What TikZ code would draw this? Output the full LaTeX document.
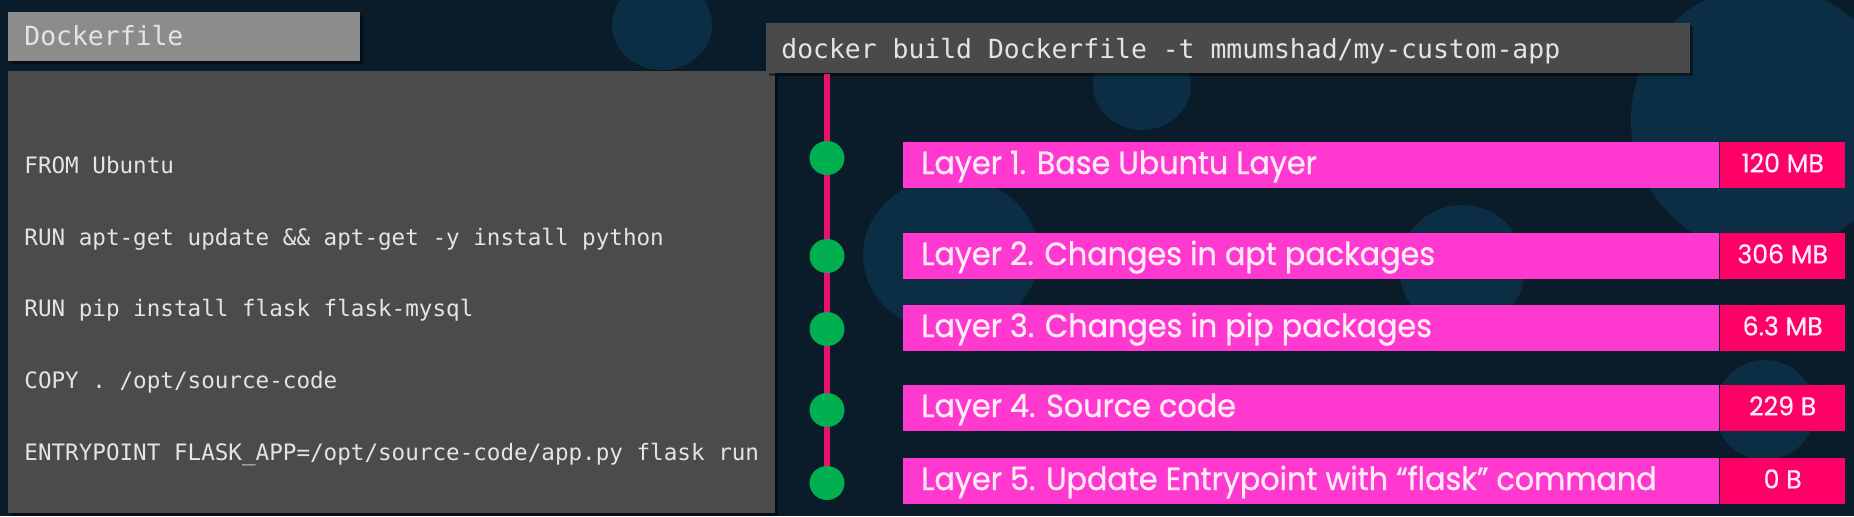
\documentclass[tikz,border=0pt]{standalone}
\usepackage{fontspec}
\usetikzlibrary{shapes.geometric,shadows}
\newfontfamily\codefont{DejaVu Sans Mono}
\newfontfamily\layerfont{Poppins}[FakeStretch=0.945,FakeBold=0.8]
\newfontfamily\sizefont{Poppins}[FakeStretch=0.97,FakeBold=0.5]
\definecolor{bgnavy}{HTML}{0A1B29}
\definecolor{bubble}{HTML}{0B2E45}
\definecolor{titlegray}{HTML}{8C8C8C}
\definecolor{panelgray}{HTML}{4B4B4B}
\definecolor{cmdgray}{HTML}{4A4A4A}
\definecolor{codetext}{HTML}{E4E4E4}
\definecolor{linepink}{HTML}{E8116B}
\definecolor{dotgreen}{HTML}{00B050}
\definecolor{layerpink}{HTML}{FF38CF}
\definecolor{sizepink}{HTML}{FF0066}
\definecolor{layertext}{HTML}{FDEBF8}
\tikzset{
  boxshadow/.style={drop shadow={opacity=0.45,shadow xshift=1.2pt,shadow yshift=-1.2pt,fill=black}},
  titlebox/.style={anchor=north west,fill=titlegray,minimum width=176pt,minimum height=24.5pt,inner sep=0pt,boxshadow},
  panelbox/.style={anchor=north west,fill=panelgray,minimum width=383.5pt,minimum height=221pt,inner sep=0pt,boxshadow},
  cmdbox/.style={anchor=north west,fill=cmdgray,minimum width=462pt,minimum height=25pt,inner sep=0pt,boxshadow},
  bigmono/.style={anchor=base west,inner sep=0pt,text=codetext,font=\codefont\fontsize{13.2pt}{15pt}\selectfont},
  codeline/.style={anchor=base west,inner sep=0pt,text=codetext,font=\codefont\fontsize{11.3pt}{13pt}\selectfont},
  layerbox/.style={anchor=north west,fill=layerpink,minimum height=23pt,minimum width=408pt,inner sep=0pt},
  layertxt/.style={anchor=west,inner sep=0pt,text height=0.7em,text depth=0pt,text=layertext,
    font=\layerfont\fontsize{16pt}{18pt}\selectfont},
  sizebox/.style={anchor=north west,fill=sizepink,minimum height=23pt,minimum width=62.5pt,
    inner sep=0pt,text height=0.7em,text depth=0pt,text=layertext,
    font=\sizefont\fontsize{13pt}{15pt}\selectfont},
  timeline/.style={draw=linepink,line width=2.6pt},
  dot/.style={ellipse,fill=dotgreen,minimum width=17.5pt,minimum height=17pt,inner sep=0pt}
}
\begin{document}
\begin{tikzpicture}[x=0.5pt,y=-0.5pt]
\useasboundingbox (0,0) rectangle (1854,516);
\fill[bgnavy] (0,0) rectangle (1854,516);
% background bubbles
\fill[bubble] (662,25) ellipse [x radius=25pt,y radius=22.5pt];
\fill[bubble] (1142,85) ellipse [x radius=24.5pt,y radius=22.5pt];
\fill[bubble] (951,255) ellipse [x radius=44pt,y radius=39pt];
\fill[bubble] (1462,268) circle [radius=31.5pt];
\fill[bubble] (1765,120) circle [radius=67pt];
\fill[bubble] (1765,410) circle [radius=25pt];
% Dockerfile
\node[titlebox] (title) at (8,12) {};
\node[bigmono] (titletxt) at (24,45) {Dockerfile};
\node[panelbox] (panel) at (8,71) {};
\node[codeline] (c1) at (24,173.3) {FROM Ubuntu};
\node[codeline] (c2) at (24,245) {RUN apt-get update \&\& apt-get -y install python};
\node[codeline] (c3) at (24,316.7) {RUN pip install flask flask-mysql};
\node[codeline] (c4) at (24,388.4) {COPY . /opt/source-code};
\node[codeline] (c5) at (24,460) {ENTRYPOINT FLASK\_APP=/opt/source-code/app.py flask run};
% build command
\node[cmdbox] (cmd) at (766,23) {};
\node[bigmono] (cmdtxt) at (781,58) {docker build Dockerfile -t mmumshad/my-custom-app};
% layers
\node[layerbox] (L1) at (903,142) {};
\node[layerbox] (L2) at (903,233) {};
\node[layerbox] (L3) at (903,305) {};
\node[layerbox] (L4) at (903,385) {};
\node[layerbox] (L5) at (903,458) {};
\node[layertxt] (T1) at ([xshift=9pt,yshift=-0.8pt]L1.west) {Layer 1. Base Ubuntu Layer};
\node[layertxt] (T2) at ([xshift=9pt,yshift=-0.8pt]L2.west) {Layer 2. Changes in apt packages};
\node[layertxt] (T3) at ([xshift=9pt,yshift=-0.8pt]L3.west) {Layer 3. Changes in pip packages};
\node[layertxt] (T4) at ([xshift=9pt,yshift=-0.8pt]L4.west) {Layer 4. Source code};
\node[layertxt] (T5) at ([xshift=9pt,yshift=-0.8pt]L5.west) {Layer 5. Update Entrypoint with “flask” command};
\node[sizebox] (S1) at (L1.north east) {120 MB};
\node[sizebox] (S2) at (L2.north east) {306 MB};
\node[sizebox] (S3) at (L3.north east) {6.3 MB};
\node[sizebox] (S4) at (L4.north east) {229 B};
\node[sizebox] (S5) at (L5.north east) {0 B};
% timeline
\coordinate (p1) at (827,158);
\coordinate (p2) at (827,256);
\coordinate (p3) at (827,329);
\coordinate (p4) at (827,410);
\coordinate (p5) at (827,483);
\coordinate (ptop) at (cmd.south -| p1);
\draw[timeline] (ptop) -- (p1) -- (p2) -- (p3) -- (p4) -- (p5);
\node[dot] (d1) at (p1) {};
\node[dot] (d2) at (p2) {};
\node[dot] (d3) at (p3) {};
\node[dot] (d4) at (p4) {};
\node[dot] (d5) at (p5) {};
\end{tikzpicture}
\end{document}
